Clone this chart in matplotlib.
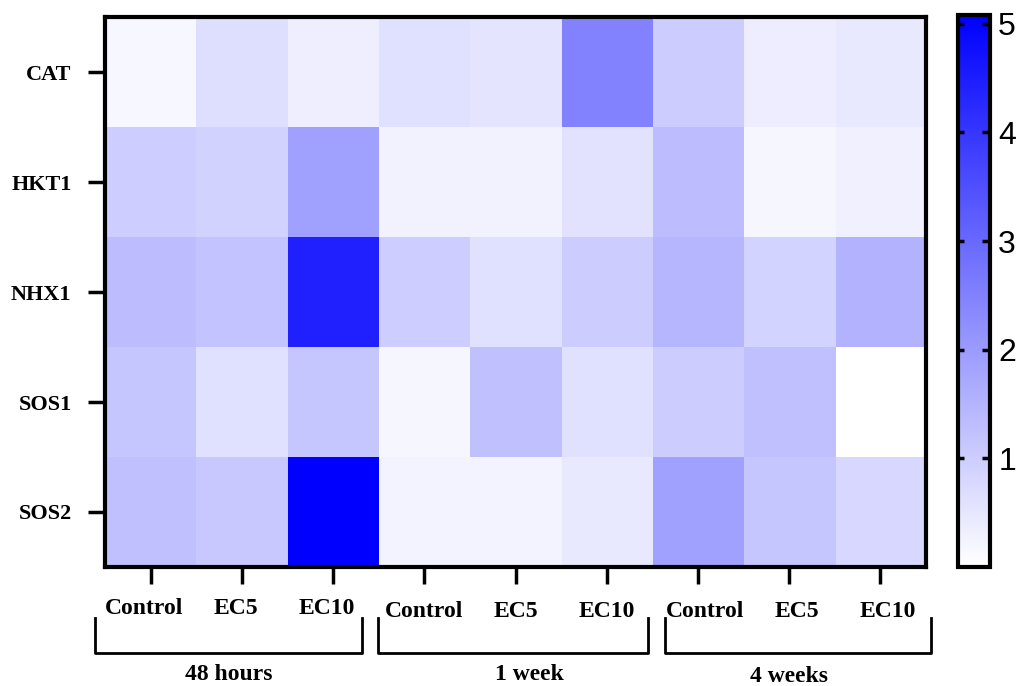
import numpy as np
import matplotlib
matplotlib.use("Agg")
import matplotlib.pyplot as plt
from matplotlib.colors import LinearSegmentedColormap
import matplotlib.transforms as mtransforms

# Gen isimleri ve örnek grupları
genes = ["CAT", "HKT1", "NHX1", "SOS1", "SOS2"]
treatments = ["Control", "EC5", "EC10"] * 3
periods = ["48 hours", "1 week", "4 weeks"]
cbar_ticks = [1, 2, 3, 4, 5]

# Göreli ifade değerleri (satır: gen, sütun: dönem x muamele)
cat_vals = [0.16, 0.66, 0.34, 0.62, 0.54, 2.49, 1.02, 0.36, 0.46]
hkt1_vals = [1.00, 0.90, 1.89, 0.26, 0.26, 0.58, 1.33, 0.18, 0.30]
nhx1_vals = [1.33, 1.18, 4.44, 1.00, 0.62, 1.02, 1.45, 0.86, 1.53]
sos1_vals = [1.14, 0.62, 1.14, 0.18, 1.26, 0.62, 1.02, 1.26, 0.00]
sos2_vals = [1.26, 1.10, 5.08, 0.24, 0.24, 0.46, 1.89, 1.14, 0.80]

data = np.array([cat_vals, hkt1_vals, nhx1_vals, sos1_vals, sos2_vals])

cmap = LinearSegmentedColormap.from_list("wb", ["#ffffff", "#0000ff"])
serif = ["Liberation Serif", "DejaVu Serif"]

W, H = 1029, 686
fig = plt.figure(figsize=(W / 100, H / 100), dpi=100)
ax = fig.add_axes([0.102, 0.1735, 0.798, 0.8015])
im = ax.imshow(data, cmap=cmap, vmin=data.min(), vmax=data.max(),
               aspect="auto", interpolation="nearest")

for sp in ax.spines.values():
    sp.set_linewidth(3)

ax.set_yticks(range(len(genes)))
ax.set_yticklabels(genes, fontfamily=serif, fontweight="bold", fontsize=16)
ax.set_xticks(range(len(treatments)))
ax.set_xticklabels([])
ax.tick_params(axis="y", length=12, width=2.5, pad=12)
ax.tick_params(axis="x", length=12, width=2.5)

# Muamele etiketleri (veri x, figür y)
trans = mtransforms.blended_transform_factory(ax.transData, fig.transFigure)
label_y = [0.113, 0.109, 0.108]
label_dx = [-0.07, 0.0, 0.08]
for g in range(len(periods)):
    for k in range(3):
        i = g * 3 + k
        ax.text(i + label_dx[g], label_y[g], treatments[i], transform=trans,
                ha="center", va="center", fontfamily=serif, fontweight="bold", fontsize=17)

# Dönem parantezleri (piksel konumları)
bracket_px = [(95, 362), (378, 648), (665, 931)]
period_px = [(229, 674), (529, 674), (789, 676)]
for (x0, x1), (tx, ty), period in zip(bracket_px, period_px, periods):
    fig.add_artist(plt.Line2D([x0 / W, x0 / W, x1 / W, x1 / W],
                              [1 - 618 / H, 1 - 653 / H, 1 - 653 / H, 1 - 618 / H],
                              transform=fig.transFigure, color="black", lw=2))
    fig.text(tx / W, 1 - ty / H, period, ha="center", va="center",
             fontfamily=serif, fontweight="bold", fontsize=17)

ax.set_xlim(-0.5, len(treatments) - 0.5)
ax.set_ylim(len(genes) - 0.5, -0.5)

# Renk çubuğu
cax = fig.add_axes([0.931, 0.1735, 0.031, 0.8045])
cb = fig.colorbar(im, cax=cax, ticks=cbar_ticks)
cb.outline.set_linewidth(3)
cax.tick_params(direction="in", right=True, length=6, width=2.5,
                labelsize=23, pad=6)
for t in cax.get_yticklabels():
    t.set_fontfamily(["Liberation Sans", "DejaVu Sans"])
# sol kenardaki iç çentikler
ctrans = mtransforms.blended_transform_factory(cax.transAxes, cax.transData)
for v in cbar_ticks:
    cax.plot([0, 0.2], [v, v], transform=ctrans, color="black", lw=2.5,
             solid_capstyle="butt", zorder=5)

fig.savefig("out.png", dpi=100)
